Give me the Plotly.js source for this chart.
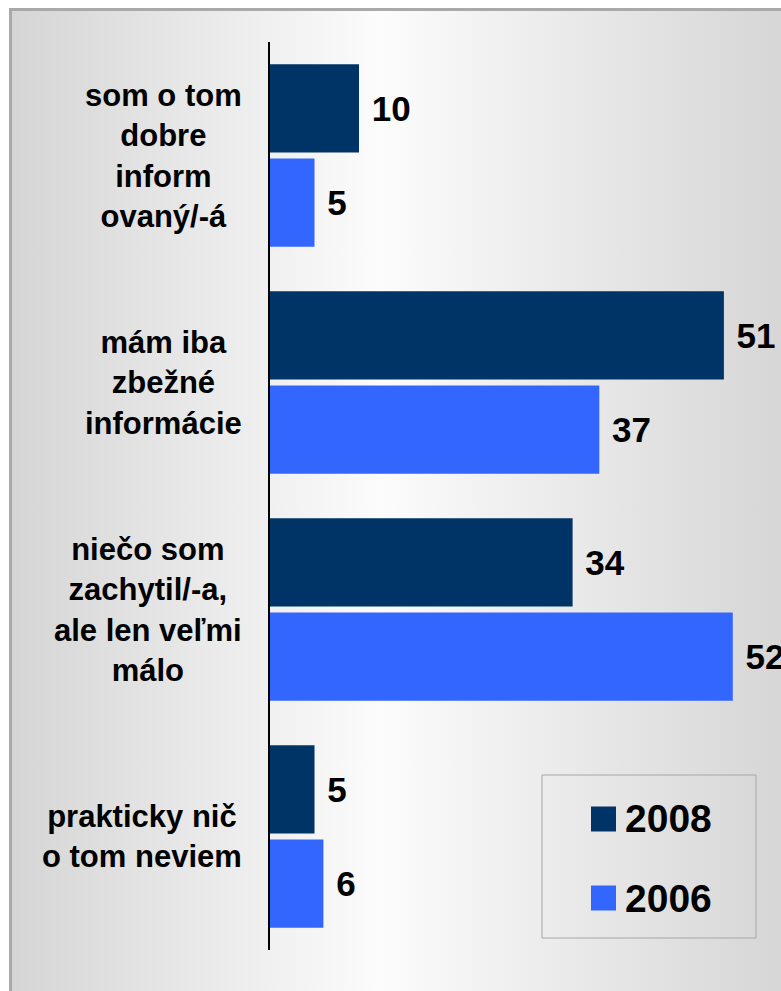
<!DOCTYPE html>
<html>
<head>
<meta charset="utf-8">
<script src="https://cdn.plot.ly/plotly-3.0.1.min.js"></script>
<style>
  html, body { margin: 0; padding: 0; background: #ffffff; width: 781px; height: 991px; overflow: hidden; }
  #frame {
    position: absolute; left: 9px; top: 8px; width: 820px; height: 1020px;
    border-left: 3px solid #a9a9a9; border-top: 3px solid #a9a9a9;
    background: linear-gradient(to right, #d5d5d5 0px, #e9e9e9 190px, #fcfcfc 370px, #f2f2f2 470px, #d7d7d7 760px);
  }
  #chart { position: absolute; left: 0; top: 0; width: 781px; height: 991px; }
</style>
</head>
<body>
<div id="frame"></div>
<div id="chart"></div>
<script>
// ---- data ----
var categories = [
  'som o tom dobre informovaný/-á',
  'mám iba zbežné informácie',
  'niečo som zachytil/-a, ale len veľmi málo',
  'prakticky nič o tom neviem'
];
var categoryLabels = [
  'som o tom<br>dobre<br>inform<br>ovaný/-á',
  'mám iba<br>zbežné<br>informácie',
  'niečo som<br>zachytil/-a,<br>ale len veľmi<br>málo',
  'prakticky nič<br>o tom neviem'
];
var seriesNames = ['2008', '2006'];
var values2008 = [10, 51, 34, 5];
var values2006 = [5, 37, 52, 6];

// ---- styles ----
var colors = ['#003366', '#3366FF'];
var fontFamily = 'Arial, "Liberation Sans", Helvetica, sans-serif';

// pixel helpers (plot area: x 270..781, y 42..950)
var L = 270, R = 781, T = 42, B = 950;
function px(x) { return (x - L) / (R - L); }
function py(y) { return (B - y) / (B - T); }

var seriesValues = [values2008, values2006];
var traces = seriesNames.map(function (name, i) {
  return {
    type: 'bar',
    orientation: 'h',
    name: name,
    y: categories,
    x: seriesValues[i],
    marker: { color: colors[i], line: { width: 0 } },
    texttemplate: '\u00a0%{x}',
    textposition: 'outside',
    constraintext: 'none',
    cliponaxis: false,
    textfont: { family: fontFamily, size: 35, color: '#000000', weight: 'bold' },
    showlegend: false,
    hoverinfo: 'skip'
  };
});

var annotations = categories.map(function (c, i) {
  return {
    xref: 'paper', yref: 'y',
    x: px(244), y: c,
    text: categoryLabels[i],
    showarrow: false,
    xanchor: 'right', yanchor: 'middle',
    align: 'center',
    font: { family: fontFamily, size: 31, color: '#000000', weight: 'bold' }
  };
});

// custom legend
var legendRows = [819, 898];
var shapes = [{
  type: 'rect', xref: 'paper', yref: 'paper',
  x0: px(542), x1: px(756), y0: py(938), y1: py(775),
  line: { color: '#a6a6a6', width: 1 }, fillcolor: 'rgba(0,0,0,0)'
}];
seriesNames.forEach(function (name, i) {
  var cy = legendRows[i];
  shapes.push({
    type: 'rect', xref: 'paper', yref: 'paper',
    x0: px(591), x1: px(616), y0: py(cy + 12.5), y1: py(cy - 12.5),
    line: { width: 0 }, fillcolor: colors[i]
  });
  annotations.push({
    xref: 'paper', yref: 'paper',
    x: px(623), y: py(cy),
    text: name, showarrow: false,
    xanchor: 'left', yanchor: 'middle',
    font: { family: fontFamily, size: 39, color: '#000000', weight: 'bold' }
  });
});

var layout = {
  width: 781, height: 991,
  margin: { l: L, r: 781 - R, t: T, b: 991 - B, pad: 0 },
  paper_bgcolor: 'rgba(0,0,0,0)',
  plot_bgcolor: 'rgba(0,0,0,0)',
  barmode: 'group',
  bargap: 0.17,
  bargroupgap: 0.064,
  showlegend: false,
  xaxis: {
    range: [0, (R - L) / 8.9],
    showgrid: false, zeroline: false, showline: false,
    showticklabels: false, ticks: '', fixedrange: true
  },
  yaxis: {
    type: 'category',
    categoryorder: 'array',
    categoryarray: categories,
    autorange: 'reversed',
    showgrid: false, zeroline: false,
    showline: true, linecolor: '#000000', linewidth: 2,
    showticklabels: false, ticks: '', fixedrange: true
  },
  annotations: annotations,
  shapes: shapes,
  font: { family: fontFamily }
};

Plotly.newPlot('chart', traces, layout, { displayModeBar: false, staticPlot: true });
</script>
</body>
</html>
